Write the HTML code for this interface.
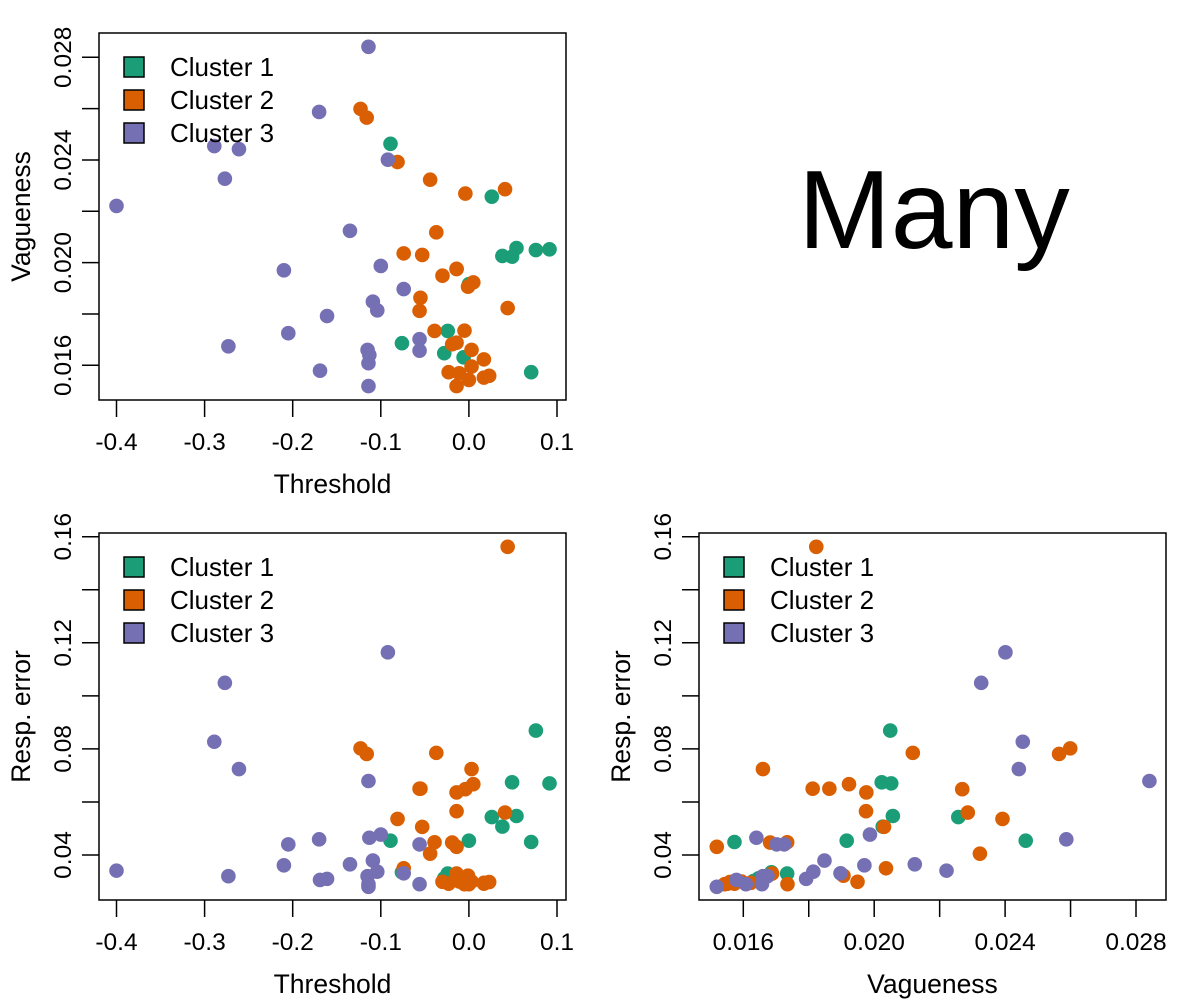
<!DOCTYPE html>
<html><head><meta charset="utf-8"><style>
html,body{margin:0;padding:0;background:#fff;}
svg{display:block;font-family:"Liberation Sans",Arial,sans-serif;}
</style></head><body>
<svg id="chart" width="1200" height="1000" viewBox="0 0 1200 1000">
<text x="934" y="248" font-size="111" text-anchor="middle">Many</text>
</svg>
<script>
// Data (one entry per observation)
const clusterNames = ["Cluster 1","Cluster 2","Cluster 3"];
const clusterColors = ["#1B9E77","#D95F02","#7570B3"];
const cluster = [
 0,0,0,0,0,0,0,0,0,0,0,0,0,
 1,1,1,1,1,1,1,1,1,1,1,1,1,1,1,1,1,1,1,1,1,1,1,1,1,1,1,1,1,1,
 2,2,2,2,2,2,2,2,2,2,2,2,2,2,2,2,2,2,2,2,2,2,2
];
const threshold = [
 -0.089,0.026,0.054,0.038,0.049,0.076,0.0915,0.000,-0.024,-0.076,-0.028,-0.006,0.0707,
 -0.123,-0.116,-0.081,-0.044,-0.004,0.041,-0.037,-0.074,-0.053,-0.014,-0.030,0.005,-0.001,-0.055,-0.056,0.044,-0.039,-0.005,-0.019,-0.014,0.003,0.017,0.003,-0.023,-0.011,0.000,-0.014,0.017,0.023,-0.014,
 -0.114,-0.170,-0.289,-0.261,-0.277,-0.400,-0.092,-0.135,-0.210,-0.100,-0.074,-0.109,-0.104,-0.161,-0.205,-0.273,-0.056,-0.056,-0.115,-0.113,-0.114,-0.169,-0.114
];
const vagueness = [
 0.02463,0.02257,0.02057,0.02026,0.02023,0.02049,0.02052,0.01916,0.01734,0.01686,0.01647,0.01631,0.01573,
 0.02599,0.02565,0.02392,0.02323,0.02269,0.02286,0.02118,0.02036,0.02030,0.01976,0.01949,0.01923,0.01906,0.01863,0.01812,0.01823,0.01734,0.01735,0.01682,0.01688,0.01660,0.01623,0.01595,0.01573,0.01569,0.01543,0.01519,0.01552,0.01559,0.01975,
 0.02841,0.02587,0.02454,0.02442,0.02327,0.02221,0.02401,0.02124,0.01970,0.01987,0.01897,0.01848,0.01814,0.01792,0.01725,0.01674,0.01702,0.01657,0.01660,0.01640,0.01608,0.01579,0.01519
];
const respError = [
 0.0454,0.0543,0.0547,0.0507,0.0674,0.0869,0.0670,0.0454,0.0330,0.0335,0.0312,0.0302,0.0449,
 0.0802,0.0781,0.0536,0.0405,0.0648,0.0560,0.0785,0.0350,0.0506,0.0636,0.0299,0.0667,0.0322,0.0650,0.0650,0.1562,0.0448,0.0290,0.0447,0.0330,0.0724,0.0295,0.0300,0.0292,0.0300,0.0290,0.0431,0.0292,0.0298,0.0565,
 0.0679,0.0459,0.0827,0.0724,0.1049,0.0341,0.1164,0.0365,0.0361,0.0477,0.0331,0.0379,0.0337,0.0310,0.0440,0.0320,0.0440,0.0290,0.0320,0.0465,0.0290,0.0306,0.0280
];
const thresholdTicks = [-0.4,-0.3,-0.2,-0.1,0.0,0.1];
const thresholdTickLabels = ["-0.4","-0.3","-0.2","-0.1","0.0","0.1"];
const vagTicks = [0.016,0.018,0.020,0.022,0.024,0.026,0.028];
const vagTickLabels = ["0.016","","0.020","","0.024","","0.028"];
const errTicks = [0.04,0.06,0.08,0.10,0.12,0.14,0.16];
const errTickLabels = ["0.04","","0.08","","0.12","","0.16"];

const NS="http://www.w3.org/2000/svg";
const svg=document.getElementById('chart');
function mk(tag,attrs,parent){const e=document.createElementNS(NS,tag);for(const k in attrs)e.setAttribute(k,attrs[k]);(parent||svg).appendChild(e);return e;}
function lin(d0,d1,r0,r1){return v=>r0+(v-d0)*(r1-r0)/(d1-d0);}

const xThr=lin(-0.4,0.1,116.5,557), xVag=lin(0.016,0.028,743.3,1136);
const yVagTop=lin(0.016,0.028,365.3,57.3);
const yErrL=lin(0.04,0.16,855,536.7);

const panels=[
 {id:'threshold-vagueness',box:[99,33,566,400],xs:xThr,ys:yVagTop,xv:threshold,yv:vagueness,xt:thresholdTicks,xl:thresholdTickLabels,yt:vagTicks,yl:vagTickLabels,xlab:'Threshold',ylab:'Vagueness'},
 {id:'threshold-error',box:[99,533,566,900],xs:xThr,ys:yErrL,xv:threshold,yv:respError,xt:thresholdTicks,xl:thresholdTickLabels,yt:errTicks,yl:errTickLabels,xlab:'Threshold',ylab:'Resp. error'},
 {id:'vagueness-error',box:[699,533,1166,900],xs:xVag,ys:yErrL,xv:vagueness,yv:respError,xt:vagTicks,xl:vagTickLabels,yt:errTicks,yl:errTickLabels,xlab:'Vagueness',ylab:'Resp. error'}
];

panels.forEach(p=>{
 const g=mk('g',{});
 
 
 const [x0,y0,x1,y1]=p.box;
 const r=mk('rect',{x:x0,y:y0,width:x1-x0,height:y1-y0,fill:'none',stroke:'#000','stroke-width':1.5},g);
 
 
 p.xt.forEach((v,i)=>{
  const x=p.xs(v);
  const t=mk('line',{x1:x,x2:x,y1:y1,y2:y1+17,stroke:'#000','stroke-width':1.5},g);
  
  
  if(p.xl[i]){const l=mk('text',{x:x,y:y1+50,'font-size':24.5,'text-anchor':'middle'},g);l.textContent=p.xl[i];
   
   }
 });
 p.yt.forEach((v,i)=>{
  const y=p.ys(v);
  const t=mk('line',{x1:x0-17,x2:x0,y1:y,y2:y,stroke:'#000','stroke-width':1.5},g);
  
  
  if(p.yl[i]){const cx=x0-28;const l=mk('text',{x:cx,y:y,'font-size':24.5,'text-anchor':'middle',transform:`rotate(-90 ${cx} ${y})`},g);l.textContent=p.yl[i];
   
   }
 });
 const xl=mk('text',{x:(x0+x1)/2,y:y1+93,'font-size':26.5,'text-anchor':'middle'},g);xl.textContent=p.xlab;
 
 
 const ycx=x0-69,ycy=(y0+y1)/2;
 const yl=mk('text',{x:ycx,y:ycy,'font-size':26.5,'text-anchor':'middle',transform:`rotate(-90 ${ycx} ${ycy})`},g);yl.textContent=p.ylab;
 
 
 for(let i=0;i<p.xv.length;i++){
  const c=mk('circle',{cx:p.xs(p.xv[i]),cy:p.ys(p.yv[i]),r:7.3,fill:clusterColors[cluster[i]]},g);
  
  
 }
 clusterNames.forEach((n,k)=>{
  const ly=y0+34+k*33;
  const s=mk('rect',{x:x0+25,y:ly-10,width:20,height:20,fill:clusterColors[k],stroke:'#000','stroke-width':1.5},g);
  
  
  const t=mk('text',{x:x0+71,y:ly+9,'font-size':26},g);t.textContent=n;
  
  
 });
});
</script>
</body></html>
